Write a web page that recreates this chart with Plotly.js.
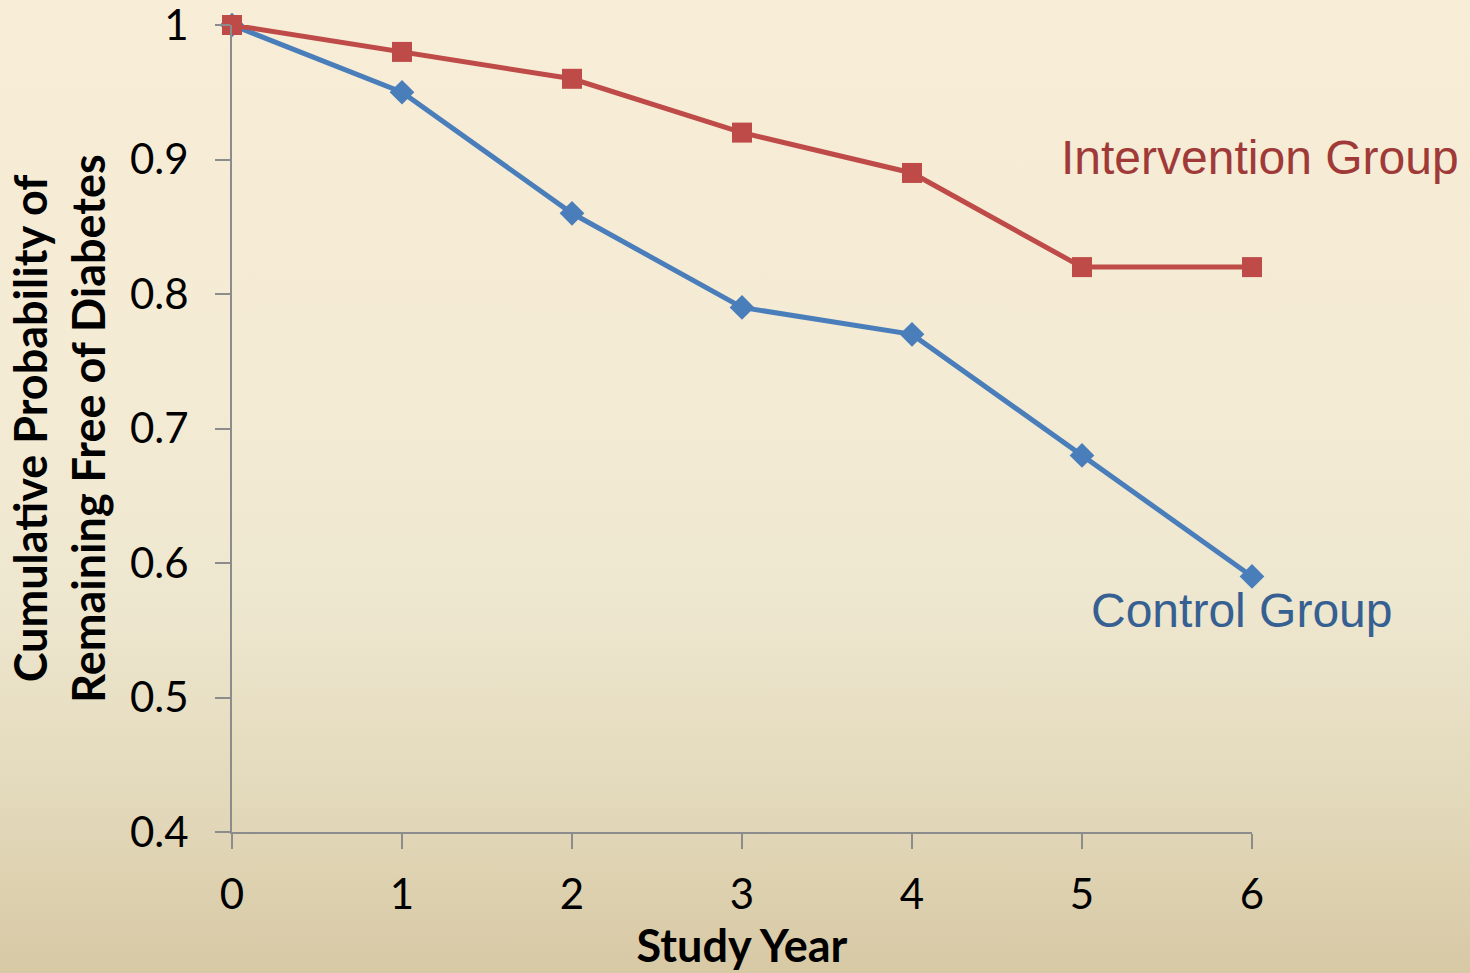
<!DOCTYPE html>
<html>
<head>
<meta charset="utf-8">
<script src="https://cdn.plot.ly/plotly-3.0.1.min.js"></script>
<style>
  html, body { margin: 0; padding: 0; width: 1470px; height: 973px; overflow: hidden; }
  body { background: linear-gradient(to bottom, #F8EDD6 0%, #F4EBD4 40%, #EEE7CF 62%, #E3D9BB 82%, #D8C9A5 100%); }
  #chart { width: 1470px; height: 973px; }
</style>
</head>
<body>
<div id="chart"></div>
<script>
// Study years and cumulative probability of remaining free of diabetes
const studyYears = [0, 1, 2, 3, 4, 5, 6];
const controlGroup = [1.00, 0.95, 0.86, 0.79, 0.77, 0.68, 0.59];
const interventionGroup = [1.00, 0.98, 0.96, 0.92, 0.89, 0.82, 0.82];
const yTicks = [0.4, 0.5, 0.6, 0.7, 0.8, 0.9, 1];
const yTickLabels = ['0.4', '0.5', '0.6', '0.7', '0.8', '0.9', '1'];
const xTicks = [0, 1, 2, 3, 4, 5, 6];

const blue = '#4A7EBB';
const red = '#BE4B48';
const tickFont = { family: 'Lato, "Open Sans", sans-serif', size: 42, color: '#000' };
const titleFont = { family: 'Lato, "Open Sans", sans-serif', size: 45, color: '#000', weight: 'bold' };

const traces = [
  {
    x: studyYears, y: controlGroup, name: 'Control Group',
    type: 'scatter', mode: 'lines+markers',
    line: { color: blue, width: 5 },
    marker: { symbol: 'diamond', size: 19, color: blue },
    cliponaxis: false
  },
  {
    x: studyYears, y: interventionGroup, name: 'Intervention Group',
    type: 'scatter', mode: 'lines+markers',
    line: { color: red, width: 5 },
    marker: { symbol: 'square', size: 20, color: red },
    cliponaxis: false
  }
];

const layout = {
  width: 1470, height: 973,
  paper_bgcolor: 'rgba(0,0,0,0)', plot_bgcolor: 'rgba(0,0,0,0)',
  showlegend: false,
  margin: { l: 232, r: 218, t: 25, b: 141 },
  xaxis: {
    range: [0, 6], tickvals: xTicks,
    showgrid: false, zeroline: false,
    showline: true, linecolor: '#8C8C8C', linewidth: 2,
    ticks: 'outside', ticklen: 15, tickwidth: 2, tickcolor: '#8C8C8C',
    tickfont: tickFont, ticklabelstandoff: 10,
    title: { text: 'Study Year', font: titleFont, standoff: 8 }
  },
  yaxis: {
    range: [0.4, 1.00001], tickvals: yTicks, ticktext: yTickLabels,
    ticklabeloverflow: 'allow',
    showgrid: false, zeroline: false,
    showline: true, linecolor: '#8C8C8C', linewidth: 2,
    ticks: 'outside', ticklen: 15, tickwidth: 2, tickcolor: '#8C8C8C',
    tickfont: tickFont, ticklabelstandoff: 18,
    title: { text: 'Cumulative Probability of<br>Remaining Free of Diabetes', font: titleFont, standoff: 10 }
  },
  annotations: [
    {
      x: 1.0, xref: 'paper', xanchor: 'right', xshift: 209,
      y: interventionGroup[4] + 0.0115, yref: 'y', yanchor: 'middle',
      text: 'Intervention Group', showarrow: false,
      font: { family: '"Liberation Sans", Arial, sans-serif', size: 48, color: '#A03A38' }
    },
    {
      x: 1.0, xref: 'paper', xanchor: 'right', xshift: 142,
      y: controlGroup[6] - 0.025, yref: 'y', yanchor: 'middle',
      text: 'Control Group', showarrow: false,
      font: { family: '"Liberation Sans", Arial, sans-serif', size: 48, color: '#376092' }
    }
  ]
};

Plotly.newPlot('chart', traces, layout, { displayModeBar: false, staticPlot: true });
</script>
</body>
</html>
